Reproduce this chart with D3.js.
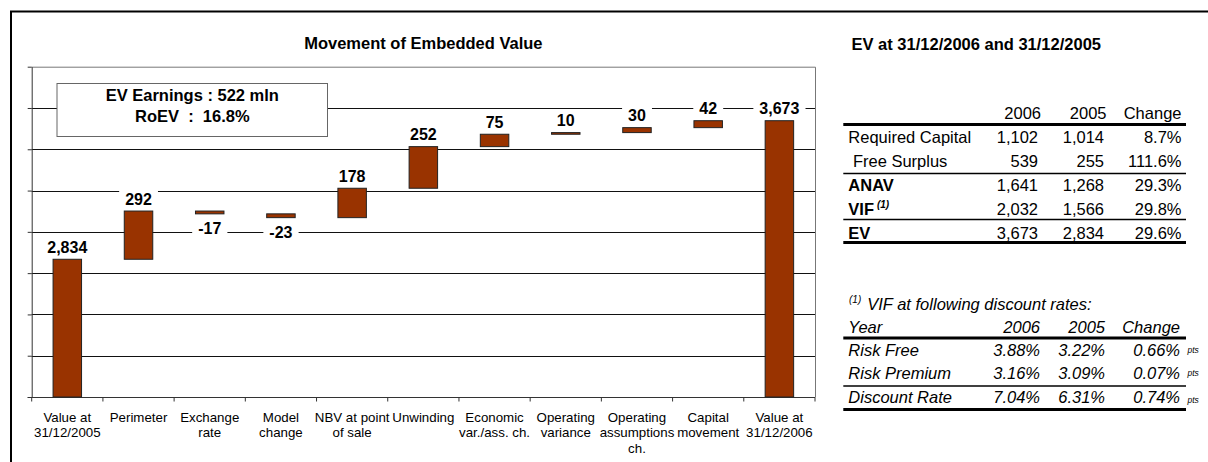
<!DOCTYPE html>
<html>
<head>
<meta charset="utf-8">
<script src="https://cdn.jsdelivr.net/npm/d3@7"></script>
<style>
  body { margin: 0; background: #fff; }
  svg text { font-family: Arial, "Liberation Sans", sans-serif; white-space: pre; }
</style>
</head>
<body>
<svg id="chart" width="1208" height="462"></svg>
<script>
// waterfall data
var categories = ["Value at\n31/12/2005", "Perimeter", "Exchange\nrate", "Model\nchange",
    "NBV at point\nof sale", "Unwinding", "Economic\nvar./ass. ch.", "Operating\nvariance",
    "Operating\nassumptions\nch.", "Capital\nmovement", "Value at\n31/12/2006"]
var values = [2834, 292, -17, -23, 178, 252, 75, 10, 30, 42, 3673]
var isTotal = [true, false, false, false, false, false, false, false, false, false, true]
var yTicks = [2000, 2250, 2500, 2750, 3000, 3250, 3500, 3750, 4000]
var boxLines = ["EV Earnings : 522 mln", "RoEV  :  16.8%"]

// EV table
var evRows = ["Required Capital", " Free Surplus", "ANAV", "VIF", "EV"]
var evBold = [false, false, true, true, true]
var ev2006 = [1102, 539, 1641, 2032, 3673]
var ev2005 = [1014, 255, 1268, 1566, 2834]
var evChange = [8.7, 111.6, 29.3, 29.8, 29.6]

// discount rate table
var rateRows = ["Risk Free", "Risk Premium", "Discount Rate"]
var rate2006 = [3.88, 3.16, 7.04]
var rate2005 = [3.22, 3.09, 6.31]
var rateChange = [0.66, 0.07, 0.74]

var svg = d3.select("#chart")
var loc = d3.formatLocale({decimal: ".", thousands: ",", grouping: [3], currency: ["", ""], minus: "-"})
var fmtInt = loc.format(",")
var fmtPct1 = d => d.toFixed(1) + "%"
var fmtPct2 = d => d.toFixed(2) + "%"

// outer frame (runs off the right/bottom edge)
svg.append("rect")
    .attr("x", 11).attr("y", 11.5)
    .attr("width", 1240).attr("height", 500)
    .attr("fill", "none").attr("stroke", "#000").attr("stroke-width", 2)

var dims = {left: 31.7, right: 815, top: 66.7, bottom: 397}

var xScale = d3.scaleBand()
    .domain(categories)
    .range([dims.left, dims.right])

var yScale = d3.scaleLinear()
    .domain([2000, 4000])
    .range([dims.bottom, dims.top])

// titles
svg.append("text")
    .attr("x", (dims.left + dims.right) / 2).attr("y", 49)
    .attr("text-anchor", "middle")
    .style("font-size", "16.5px").style("font-weight", "bold")
    .text("Movement of Embedded Value")

svg.append("text")
    .attr("x", 851.5).attr("y", 50)
    .style("font-size", "16.5px").style("font-weight", "bold")
    .text("EV at 31/12/2006 and 31/12/2005")

// gridlines
svg.append("g").selectAll("line")
    .data(yTicks.slice(1, -1))
    .enter().append("line")
    .attr("x1", dims.left).attr("x2", dims.right)
    .attr("y1", d => Math.round(yScale(d)) + 0.5)
    .attr("y2", d => Math.round(yScale(d)) + 0.5)
    .attr("stroke", "#111").attr("stroke-width", 1)

// plot border top/right
svg.append("path")
    .attr("d", `M${dims.left},${dims.top + 0.5}H${dims.right + 0.5}V${dims.bottom}`)
    .attr("fill", "none").attr("stroke", "#777").attr("stroke-width", 1)

// axes
var yAxisgen = d3.axisLeft(yScale).tickValues(yTicks).tickSize(4).tickFormat("").tickSizeOuter(0)
svg.append("g")
    .attr("transform", `translate(${dims.left},0)`)
    .call(yAxisgen)
    .call(g => g.selectAll("line,path").attr("stroke", "#333"))

var bounds = categories.map(c => xScale(c)).concat([dims.right])
var xAxis = svg.append("g")
xAxis.append("line")
    .attr("x1", dims.left - 4).attr("x2", dims.right)
    .attr("y1", dims.bottom + 0.5).attr("y2", dims.bottom + 0.5)
    .attr("stroke", "#333")
xAxis.selectAll(".tk")
    .data(bounds)
    .enter().append("line")
    .attr("x1", d => d).attr("x2", d => d)
    .attr("y1", dims.bottom).attr("y2", dims.bottom + 4.5)
    .attr("stroke", "#333")

// category labels
var catLabels = svg.append("g").selectAll("text")
    .data(categories)
    .enter().append("text")
    .attr("x", d => xScale(d) + xScale.bandwidth() / 2)
    .attr("y", 421.5)
    .attr("text-anchor", "middle")
    .style("font-size", "13.3px")
catLabels.selectAll("tspan")
    .data(d => d.split("\n"))
    .enter().append("tspan")
    .attr("x", function() { return d3.select(this.parentNode).attr("x") })
    .attr("dy", (d, i) => i == 0 ? 0 : 15.8)
    .text(d => d)

// waterfall bars
var running = 0
var bars = values.map(function(v, i) {
    var start, end
    if (isTotal[i]) { start = 2000; end = v; running = v }
    else { start = running; end = running + v; running = end }
    return {cat: categories[i], value: v, lo: Math.min(start, end), hi: Math.max(start, end), total: isTotal[i]}
})

var barW = xScale.bandwidth() * 0.4
svg.append("g").selectAll("rect")
    .data(bars)
    .enter().append("rect")
    .attr("x", d => xScale(d.cat) + (xScale.bandwidth() - barW) / 2)
    .attr("y", d => yScale(d.hi))
    .attr("width", barW)
    .attr("height", d => Math.max(1, yScale(d.lo) - yScale(d.hi)))
    .attr("fill", "#993300")
    .attr("stroke", "#222").attr("stroke-width", 1)

// value labels with white background
var lbl = svg.append("g").selectAll("g")
    .data(bars)
    .enter().append("g")
lbl.append("rect").attr("fill", "#fff")
lbl.append("text")
    .attr("x", d => xScale(d.cat) + xScale.bandwidth() / 2)
    .attr("y", d => d.value < 0 ? yScale(d.lo) + 20 : yScale(d.hi) - 6.5)
    .attr("text-anchor", "middle")
    .style("font-size", "16px").style("font-weight", "bold")
    .text(d => fmtInt(d.value))
lbl.each(function() {
    var g = d3.select(this)
    var b = g.select("text").node().getBBox()
    g.select("rect")
        .attr("x", b.x - 6).attr("y", b.y - 1)
        .attr("width", b.width + 12).attr("height", b.height + 2)
})

// annotation box
svg.append("rect")
    .attr("x", 57).attr("y", 83.5)
    .attr("width", 270.5).attr("height", 53)
    .attr("fill", "#fff").attr("stroke", "#666").attr("stroke-width", 1)
svg.append("g").selectAll("text")
    .data(boxLines)
    .enter().append("text")
    .attr("x", 192.3)
    .attr("y", (d, i) => 101 + i * 21)
    .attr("text-anchor", "middle")
    .style("font-size", "16.5px").style("font-weight", "bold")
    .text(d => d)

// ---- EV table ----
var colX = [848.3, 1038, 1104, 1181.5]
var tLeft = 843.3, tRight = 1186
var t1 = svg.append("g")
var hdr = ["2006", "2005", "Change"]
t1.selectAll(".h")
    .data(hdr)
    .enter().append("text")
    .attr("x", (d, i) => [1041, 1106.5, 1181.5][i])
    .attr("y", 119.3)
    .attr("text-anchor", "end")
    .style("font-size", "16.5px")
    .text(d => d)

var evY = evRows.map((d, i) => 142.7 + i * 24)
evRows.forEach(function(name, i) {
    var w = evBold[i] ? "bold" : "normal"
    var t = t1.append("text")
        .attr("x", colX[0]).attr("y", evY[i])
        .style("font-size", "16.5px").style("font-weight", w)
        .text(name)
    if (name == "VIF") {
        t.append("tspan").attr("dx", 3).attr("dy", -7)
            .style("font-size", "10px").style("font-style", "italic")
            .text("(1)")
    }
    var cells = [fmtInt(ev2006[i]), fmtInt(ev2005[i]), fmtPct1(evChange[i])]
    cells.forEach(function(c, j) {
        t1.append("text")
            .attr("x", colX[j + 1]).attr("y", evY[i])
            .attr("text-anchor", "end")
            .style("font-size", "16.5px")
            .text(c)
    })
})
var rule = function(g, y, w) {
    g.append("line")
        .attr("x1", tLeft).attr("x2", tRight)
        .attr("y1", y).attr("y2", y)
        .attr("stroke", "#000").attr("stroke-width", w)
}
rule(t1, 124.5, 3)
rule(t1, 173.5, 1.5)
rule(t1, 219.5, 1.5)
rule(t1, 242.5, 3)

// ---- discount rate table ----
var t2 = svg.append("g")
var fn = t2.append("text")
    .attr("x", 849).attr("y", 310)
    .style("font-size", "16.5px").style("font-style", "italic")
fn.append("tspan").attr("dy", -7).style("font-size", "10px").text("(1)")
fn.append("tspan").attr("dx", 6).attr("dy", 7).text("VIF at following discount rates:")

t2.append("text")
    .attr("x", colX[0]).attr("y", 332.5)
    .style("font-size", "16.5px").style("font-style", "italic")
    .text("Year")
t2.selectAll(".h")
    .data(hdr)
    .enter().append("text")
    .attr("x", (d, i) => [1040, 1105, 1180][i])
    .attr("y", 332.5)
    .attr("text-anchor", "end")
    .style("font-size", "16.5px").style("font-style", "italic")
    .text(d => d)

var rateY = [355.5, 379, 402.5]
rateRows.forEach(function(name, i) {
    t2.append("text")
        .attr("x", colX[0]).attr("y", rateY[i])
        .style("font-size", "16.5px").style("font-style", "italic")
        .text(name)
    var cells = [fmtPct2(rate2006[i]), fmtPct2(rate2005[i]), fmtPct2(rateChange[i])]
    cells.forEach(function(c, j) {
        t2.append("text")
            .attr("x", [1040, 1105, 1180][j]).attr("y", rateY[i])
            .attr("text-anchor", "end")
            .style("font-size", "16.5px").style("font-style", "italic")
            .text(c)
    })
    t2.append("text")
        .attr("x", 1187.5).attr("y", rateY[i] - (i == 2 ? 0 : 3))
        .style("font-size", "8.5px").style("font-style", "italic")
        .text("pts")
})
rule(t2, 338, 3)
rule(t2, 386, 1.5)
rule(t2, 409.5, 3)
</script>
</body>
</html>
